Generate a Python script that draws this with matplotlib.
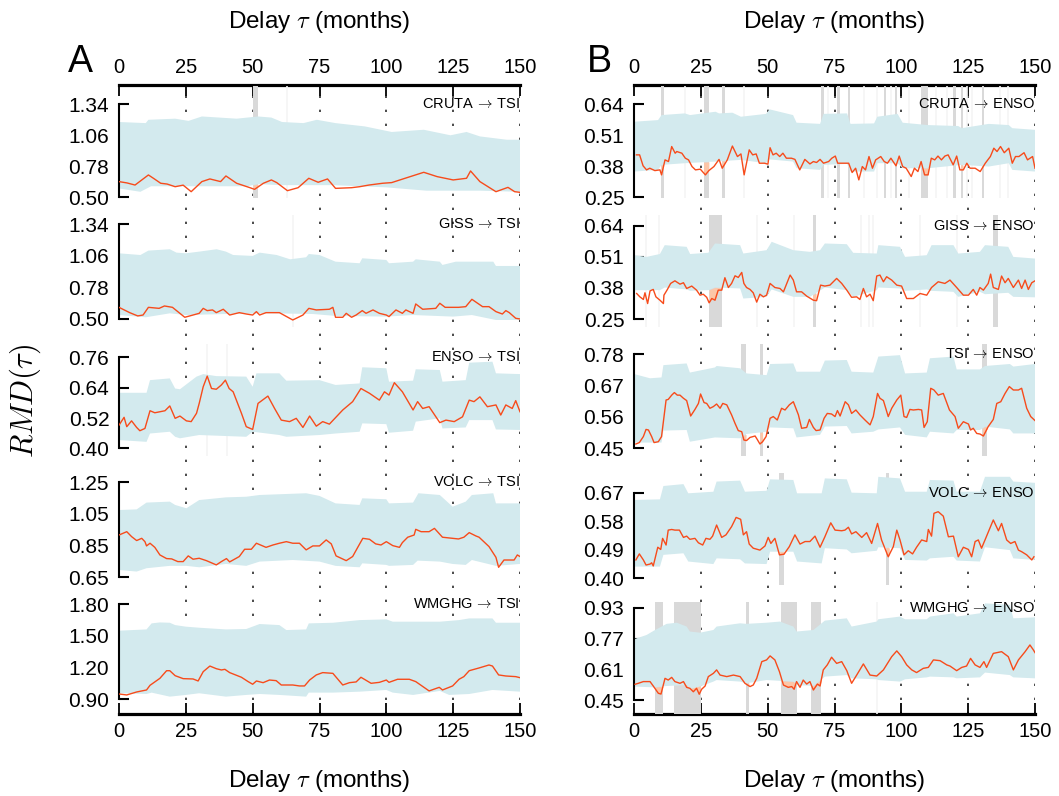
import numpy as np
import matplotlib
matplotlib.use('Agg')
import matplotlib.pyplot as plt

plt.rcParams['font.family'] = ['Liberation Sans', 'DejaVu Sans']
plt.rcParams['mathtext.fontset'] = 'cm'

# ---------------- data ----------------
DELAY_TICKS = [0, 25, 50, 75, 100, 125, 150]

# ===== Column A =====
# A1 CRUTA -> TSI
A1_hi_tau = [0,10,11,21,26,31,44,52,57,61,69,74,81,92,102,114,124,130,135,145,150]
A1_hi = [1.18,1.17,1.20,1.21,1.19,1.23,1.21,1.23,1.22,1.18,1.17,1.20,1.17,1.14,1.09,1.11,1.06,1.09,1.05,1.02,1.02]
A1_lo_tau = [0,8,12,48,52,60,80,100,115,135,150]
A1_lo = [0.58,0.55,0.60,0.60,0.62,0.61,0.61,0.59,0.56,0.56,0.55]
A1_tau = [0,3,6,11,13,15.6,18,21,24,27,31,34,38,40,44,49,50.7,54,57,59,63,67,71,74.5,78,81,87,90,93.5,98.6,
          102,107,114,119,125,130,131.5,135,141,145.5,148,150]
A1_rmd = [0.642,0.63,0.611,0.702,0.67,0.627,0.62,0.596,0.61,0.551,0.642,0.666,0.642,0.693,0.627,0.587,0.572,0.627,0.657,0.633,
          0.560,0.587,0.672,0.636,0.666,0.581,0.587,0.596,0.611,0.627,0.633,0.672,0.726,0.687,0.657,0.672,0.738,0.642,0.551,0.590,
          0.551,0.545]
A1_sig = [(50.2, 52.0)]
A1_faint = [63]

# A2 GISS -> TSI
A2_hi_tau = [0,8,11,19,21.5,25,30,36.5,40,42.7,50,52.6,59,64,70,71,75,81,90,91,100,101,110,111,120,121,126,140,141,150]
A2_hi = [1.081,1.066,1.105,1.117,1.087,1.081,1.096,1.117,1.096,1.066,1.058,1.087,1.066,1.028,1.046,1.075,1.066,1.007,0.993,1.037,
         1.022,0.993,1.007,1.028,1.007,0.978,1.007,1.007,0.969,0.969]
A2_lo_tau = [0,10,19,25,40,57,72.5,81,100,110,125,132,141,150]
A2_lo = [0.535,0.515,0.550,0.535,0.544,0.550,0.544,0.527,0.521,0.535,0.521,0.535,0.491,0.491]
A2_tau = [0,4,7,9,11,15,17,20,24.6,27.7,30,31.5,33,35,36.4,39,41.4,45,47.6,50,51.4,52.6,55,60,65,68.8,71,73.8,78.7,80,
          81,83.7,85,87,88.7,91,92.4,95,97.4,100,101,103.6,106,107.3,110,111,113.6,118.5,120,122,127,129.7,132,136,138.4,141,
          143.4,144.7,146,148.4,150]
A2_rmd = [0.603,0.556,0.527,0.535,0.603,0.594,0.615,0.603,0.515,0.535,0.550,0.594,0.574,0.580,0.556,0.586,0.535,0.556,0.544,0.535,
          0.565,0.535,0.556,0.556,0.491,0.535,0.594,0.580,0.586,0.603,0.515,0.515,0.550,0.515,0.535,0.574,0.550,0.580,0.550,0.535,
          0.521,0.580,0.550,0.580,0.550,0.633,0.586,0.594,0.639,0.603,0.603,0.609,0.674,0.609,0.609,0.565,0.544,0.574,0.556,0.506,
          0.500]
A2_sig = []
A2_faint = [65]

# A3 ENSO -> TSI
A3_hi_tau = [0,10.3,11.6,19,21,22.8,29,31.5,36.4,47.6,50,51.4,60,62.6,75,81,90,91,100,101,110,111,120,121,129.7,131,139.7,141,150]
A3_hi = [0.620,0.620,0.670,0.677,0.637,0.634,0.684,0.694,0.686,0.684,0.644,0.697,0.697,0.668,0.670,0.651,0.657,0.721,0.717,0.664,
         0.668,0.713,0.710,0.664,0.670,0.739,0.743,0.697,0.694]
A3_lo_tau = [0,10.3,11.6,19,21,22.8,30,47.6,50,60,62.6,75,81,90,91,100,101,110,111,120,121,129.7,131,139.7,141,150]
A3_lo = [0.433,0.426,0.459,0.466,0.446,0.440,0.453,0.446,0.466,0.453,0.446,0.453,0.459,0.466,0.499,0.496,0.462,0.470,0.506,0.519,
         0.479,0.483,0.512,0.512,0.475,0.473]
A3_tau = [0,1.9,2.9,4.7,6.6,7.8,9.7,11.6,13.4,15.3,17.2,19,21,22.8,25.2,27,29,30,31.5,33,34.6,36.4,38.3,39.8,41.2,42.7,45.8,47.6,50,52,
          55.7,58.2,60.7,63.8,66.3,68.8,71.3,73.8,76.2,78.7,83.7,87.4,90.5,93.7,97.4,99.3,101,103,106,110,111.7,113.6,116,120,122.3,
          125.4,128.5,131,132.8,135,137.8,141,142.8,144.7,147.1,148.4,150]
A3_rmd = [0.492,0.523,0.486,0.509,0.483,0.470,0.479,0.549,0.541,0.545,0.549,0.568,0.519,0.528,0.509,0.506,0.539,0.578,0.644,0.686,
          0.637,0.634,0.651,0.670,0.637,0.624,0.539,0.486,0.475,0.578,0.607,0.558,0.512,0.506,0.519,0.483,0.528,0.488,0.506,0.496,
          0.552,0.585,0.637,0.618,0.591,0.624,0.611,0.660,0.624,0.552,0.585,0.558,0.565,0.502,0.512,0.506,0.525,0.591,0.585,0.604,
          0.565,0.572,0.532,0.572,0.558,0.589,0.545]
A3_sig = []
A3_faint = [32.9, 40.3]

# A4 VOLC -> TSI
A4_hi_tau = [0,6.6,10.3,19,21,25.2,30,40,47.6,52.6,70,75,81,90,91,100,101,110,112,120,124.8,129.7,132,140,141,150]
A4_hi = [1.075,1.079,1.122,1.128,1.107,1.086,1.138,1.155,1.159,1.170,1.181,1.164,1.117,1.107,1.149,1.143,1.117,1.122,1.181,1.170,
         1.096,1.128,1.170,1.181,1.117,1.117]
A4_lo_tau = [0,6.6,10.3,19,25.2,30,40,47.6,52.6,65,75,81,90,91,100,101,110,111.7,120,124.8,129.7,132,141,150]
A4_lo = [0.696,0.686,0.707,0.722,0.722,0.713,0.734,0.722,0.749,0.759,0.749,0.722,0.713,0.738,0.728,0.722,0.728,0.755,0.749,0.734,
         0.728,0.759,0.722,0.734]
A4_tau = [0,2.9,4.7,6.6,8.5,9.7,10.3,11.6,13.4,15.3,17.8,19.7,22,24,25.9,27.7,30,32.7,36.4,38.3,40.2,41.4,45,47,49.5,51.4,55,57.6,60,62.6,
          65,67.5,70,72.5,75,77.5,79.4,81.2,85,87.4,89.3,91.2,93.7,96,98,100,102.4,104.9,106,108,110.4,111,113,116,118,121,127,129,131,
          133.5,134.7,138.4,141,142,144,147.8,149,150]
A4_rmd = [0.917,0.938,0.907,0.882,0.896,0.875,0.848,0.865,0.839,0.791,0.768,0.766,0.749,0.749,0.785,0.764,0.770,0.755,0.728,0.749,
          0.768,0.747,0.781,0.827,0.827,0.865,0.839,0.854,0.865,0.875,0.865,0.865,0.823,0.848,0.848,0.886,0.861,0.785,0.755,0.781,
          0.839,0.896,0.890,0.861,0.854,0.875,0.850,0.839,0.869,0.903,0.917,0.953,0.938,0.938,0.959,0.903,0.892,0.903,0.932,0.911,
          0.903,0.844,0.776,0.713,0.759,0.759,0.791,0.781]
A4_sig = []
A4_faint = []

# A5 WMGHG -> TSI
A5_hi_tau = [0,10.3,12.2,15.3,19,21,25,30,40,47.6,52.6,60,62.6,70,71,80,90,100,102.4,110,120,127.2,131,139.7,141,150]
A5_hi = [1.548,1.560,1.617,1.626,1.623,1.601,1.586,1.576,1.560,1.564,1.611,1.601,1.554,1.560,1.617,1.623,1.648,1.655,1.633,1.633,
         1.633,1.648,1.664,1.664,1.623,1.623]
A5_lo_tau = [0,10.3,12.2,19,25,30,40,47.6,52.6,60,70,71,80,90,100,102.4,110,120,123.5,131,139.7,150]
A5_lo = [0.957,0.950,0.963,0.925,0.941,0.957,0.925,0.941,0.950,0.941,0.925,0.963,0.963,0.972,0.988,0.963,0.941,0.979,0.941,0.950,
         0.988,0.972]
A5_tau = [0,2.9,6.6,10.3,11.6,15.3,17.8,19,21,24,27.7,29.6,31.5,34,36.4,38.3,39.6,41.4,45.8,48.3,50,51.4,53.9,56.3,58.8,60.7,65,67.5,
          69.4,71.3,73.8,76.2,80,83.7,86.2,88.7,90.5,94.3,97.4,100,101,104.2,108.6,111,116,119.8,121,124.8,127.2,129,131,134.7,138.4,
          139.7,142,144.7,148.4,150]
A5_rmd = [0.950,0.941,0.969,0.988,1.032,1.098,1.170,1.170,1.123,1.095,1.092,1.073,1.161,1.214,1.189,1.177,1.183,1.152,1.108,1.067,
          1.042,1.073,1.057,1.082,1.076,1.035,1.035,1.026,1.026,1.082,1.130,1.152,1.145,1.035,1.057,1.064,1.108,1.051,1.060,1.082,
          1.060,1.089,1.089,1.067,0.979,1.013,0.988,1.026,1.089,1.114,1.170,1.196,1.224,1.214,1.130,1.120,1.114,1.104]
A5_sig = []
A5_faint = []

# ===== Column B =====
# B1 CRUTA -> ENSO
B1_hi_tau = [0,9,10.3,19,21,30.5,31.8,36.8,40,49.4,50.7,59.5,60.8,69.6,70.9,79.7,81,89.8,91,98.6,100.5,110,121.3,122.6,132.7,140.2,141.5,150]
B1_hi = [0.567,0.574,0.595,0.602,0.595,0.609,0.602,0.605,0.588,0.600,0.619,0.595,0.563,0.558,0.600,0.602,0.558,0.560,0.588,0.600,
         0.563,0.553,0.549,0.540,0.558,0.553,0.540,0.533]
B1_lo_tau = [0,9,10.3,19,30.5,40,49.4,50.7,59.5,60.8,69.6,70.9,79.7,81,89.8,91,98.6,100.5,110,122.6,132.7,140.2,141.5,150]
B1_lo = [0.358,0.365,0.386,0.393,0.400,0.407,0.393,0.409,0.400,0.372,0.365,0.386,0.390,0.358,0.358,0.393,0.393,0.372,0.372,0.386,
         0.379,0.393,0.365,0.358]
B1_tau = [0.9,2.1,3.4,4.7,5.9,7.8,9.7,10.3,11.6,12.9,14.1,15.4,16.0,17.9,19.2,20.4,21.7,23.0,24.8,26.7,28.0,29.9,31.8,33.0,34.9,36.8,
          38.7,40.0,41.2,43.1,44.4,45.7,46.9,48.8,50.1,50.9,52.0,53.2,54.5,55.7,57.0,58.9,60.2,62.0,63.9,65.8,67.1,68.3,69.6,70.9,
          72.8,74.0,75.3,76.2,78.4,80.3,81.6,82.9,84.1,85.4,86.6,87.9,89.2,90.4,92.3,93.6,94.8,96.1,98.0,99.2,100.5,101.8,103.7,104.9,
          106.2,107.4,108.7,110.0,111.2,112.5,113.7,115.0,116.3,117.5,119.4,120.7,121.9,123.2,124.5,125.7,127.6,129.5,131.4,133.3,
          134.6,135.8,137.1,138.5,140.2,141.5,142.7,144.0,145.9,147.2,149.1,150]
B1_rmd = [0.428,0.428,0.382,0.365,0.372,0.362,0.365,0.344,0.407,0.400,0.463,0.435,0.442,0.435,0.414,0.407,0.379,0.365,0.368,0.344,
          0.362,0.379,0.409,0.372,0.407,0.465,0.421,0.432,0.344,0.449,0.428,0.432,0.393,0.393,0.389,0.458,0.428,0.435,0.421,0.435,
          0.414,0.414,0.409,0.365,0.409,0.390,0.400,0.396,0.409,0.393,0.400,0.414,0.423,0.393,0.393,0.393,0.354,0.372,0.323,0.379,
          0.365,0.421,0.372,0.407,0.421,0.400,0.393,0.414,0.382,0.423,0.379,0.372,0.337,0.372,0.358,0.400,0.344,0.344,0.414,0.407,
          0.423,0.407,0.423,0.428,0.386,0.423,0.365,0.365,0.393,0.372,0.372,0.358,0.393,0.421,0.456,0.442,0.463,0.437,0.456,0.393,
          0.421,0.421,0.437,0.407,0.421,0.372]
B1_sig = [(10.1,11.1),(26.0,28.0),(32.9,33.9),(70.1,71.0),(75.9,76.9),(79.9,80.8),(93.4,94.4),(97.6,98.4),(107.4,110.1),
          (119.3,120.3),(122.2,123.1),(130.1,131.1)]
B1_faint = [19,41,72.5,86,91,96,103,113,117,124.5,126.5,137,140]

# B2 GISS -> ENSO
B2_hi_tau = [0,4.7,9.7,11.5,19.7,21,27.8,30.3,39.7,40.9,49.6,51.5,59.6,65.8,69.6,71.4,79.6,82,90.8,91.4,99.5,101.4,109.5,111.3,119.5,
             121.3,129.4,131.3,140,141.9,150]
B2_hi = [0.517,0.510,0.522,0.559,0.552,0.522,0.527,0.566,0.559,0.524,0.538,0.573,0.538,0.531,0.538,0.566,0.563,0.527,0.524,0.559,
         0.552,0.510,0.517,0.559,0.559,0.524,0.531,0.559,0.552,0.510,0.503]
B2_lo_tau = [0,9.7,11.5,19.7,21,27.8,30.3,39.7,40.9,49.6,51.5,59.6,65.8,71.4,79.6,82,90.8,91.4,99.5,101.4,109.5,111.3,119.5,121.3,
             129.4,131.3,140,141.9,150]
B2_lo = [0.371,0.371,0.382,0.374,0.368,0.371,0.382,0.378,0.336,0.343,0.374,0.343,0.343,0.382,0.371,0.343,0.371,0.382,0.378,0.368,
         0.374,0.368,0.364,0.343,0.364,0.354,0.360,0.343,0.341]
B2_tau = [1.0,2.2,3.5,4.1,5.1,6.0,7.2,8.2,9.7,11.0,11.2,12.5,13.7,15.3,17.2,18.5,19.7,21.6,23.4,24.7,25.9,27.2,28.1,29.1,30.3,31.5,
          32.8,34.0,35.3,36.5,37.8,39.0,40.3,41.1,42.1,43.4,44.6,45.9,47.1,48.4,49.6,50.9,52.7,54.6,55.9,58.4,59.6,60.8,62.7,64.6,
          67.1,68.3,69.8,71.4,73.3,75.8,77.7,79.6,81.4,83.3,84.5,85.8,87.0,88.3,89.5,90.8,92.0,93.3,94.5,96.4,98.3,100.1,102.0,104.5,
          107.0,109.5,111.3,113.8,116.3,118.2,120.7,123.2,125.1,126.9,128.2,129.4,130.7,132.5,133.4,134.4,136.3,137.5,138.8,140.0,
          141.9,143.8,145.0,146.3,147.5,148.8,150]
B2_rmd = [0.357,0.343,0.332,0.360,0.315,0.368,0.374,0.343,0.329,0.315,0.350,0.374,0.399,0.410,0.396,0.402,0.378,0.388,0.371,0.350,
          0.354,0.341,0.318,0.336,0.329,0.371,0.371,0.423,0.382,0.399,0.431,0.424,0.445,0.399,0.382,0.374,0.360,0.321,0.354,0.343,
          0.350,0.399,0.382,0.378,0.364,0.434,0.413,0.364,0.364,0.346,0.329,0.327,0.392,0.388,0.392,0.420,0.399,0.371,0.341,0.343,
          0.332,0.378,0.343,0.354,0.327,0.430,0.434,0.406,0.427,0.413,0.392,0.388,0.336,0.336,0.357,0.350,0.382,0.406,0.399,0.413,
          0.382,0.350,0.350,0.374,0.350,0.382,0.371,0.399,0.438,0.382,0.374,0.430,0.402,0.420,0.382,0.413,0.378,0.413,0.374,0.402,
          0.410]
B2_sig = [(28.1,33.0),(66.8,68.1),(134.2,136.3)]
B2_faint = [4.5,9.5,46,60,85,88,89.5,107,121]

# B3 TSI -> ENSO
B3_hi_tau = [0,6,10.3,11,19.7,20.9,30.3,30.9,39.7,42.1,49.6,50.9,59.6,60.8,69.6,71.4,79.6,81.4,89.5,91.4,99.5,101.4,109.5,110.7,119.5,
             120.7,129.4,131.3,140.6,141.9,150]
B3_hi = [0.710,0.695,0.698,0.741,0.747,0.715,0.733,0.738,0.730,0.712,0.706,0.745,0.747,0.718,0.718,0.757,0.759,0.718,0.715,0.771,
         0.776,0.712,0.715,0.765,0.771,0.726,0.726,0.738,0.745,0.736,0.745]
B3_lo_tau = [0,10.3,11,19.7,20.9,30.3,39.7,42.1,49.6,50.9,59.6,60.8,69.6,71.4,79.6,81.4,89.5,91.4,99.5,101.4,109.5,110.7,119.5,120.7,
             129.4,131.3,140.6,141.9,150]
B3_lo = [0.470,0.470,0.512,0.514,0.473,0.488,0.485,0.500,0.508,0.523,0.520,0.488,0.497,0.526,0.528,0.502,0.508,0.516,0.523,0.497,
         0.488,0.508,0.502,0.514,0.514,0.526,0.516,0.502,0.502]
B3_tau = [0.7,2.0,3.5,4.5,5.4,6.6,7.5,9.1,10.3,12.0,12.8,14.1,15.1,16.2,17.2,18.5,19.7,21.2,22.8,24.1,24.9,26.2,27.2,28.4,29.7,30.9,
          32.2,33.2,34.7,36.5,37.8,39.0,40.3,41.1,42.1,43.4,45.3,46.1,47.1,48.1,49.4,50.9,52.1,53.6,55.2,56.5,58.1,59.6,61.5,62.7,
          64.6,65.6,67.1,68.1,69.6,71.1,72.3,73.9,75.2,76.1,77.1,79.0,80.2,81.4,83.0,84.5,86.4,88.3,89.5,91.1,92.0,93.3,95.1,96.4,
          98.3,99.8,101.0,102.0,103.2,104.5,106.4,107.6,108.5,109.7,111.0,112.2,113.8,115.7,118.0,120.1,121.3,123.2,125.1,125.9,
          126.9,128.2,129.4,130.7,132.5,134.4,135.7,137.2,138.8,140.4,141.9,143.8,145.0,146.9,148.4,150]
B3_rmd = [0.465,0.470,0.491,0.516,0.514,0.491,0.470,0.473,0.491,0.619,0.621,0.636,0.645,0.636,0.636,0.625,0.617,0.563,0.586,0.607,
          0.640,0.610,0.607,0.590,0.596,0.605,0.590,0.607,0.602,0.567,0.537,0.512,0.508,0.479,0.477,0.488,0.493,0.481,0.465,0.473,
          0.491,0.555,0.561,0.549,0.590,0.584,0.602,0.613,0.567,0.520,0.523,0.551,0.523,0.512,0.514,0.555,0.572,0.570,0.561,0.582,
          0.563,0.613,0.602,0.572,0.584,0.567,0.549,0.532,0.561,0.642,0.625,0.617,0.561,0.590,0.619,0.636,0.561,0.558,0.586,0.584,
          0.586,0.584,0.523,0.543,0.660,0.654,0.636,0.642,0.584,0.561,0.520,0.543,0.535,0.514,0.520,0.502,0.500,0.493,0.526,0.551,
          0.607,0.613,0.642,0.666,0.654,0.654,0.660,0.590,0.561,0.547]
B3_sig = [(40.0,41.9),(47.1,48.1),(130.3,132.2)]
B3_faint = []

# B4 VOLC -> ENSO
B4_band_tau = [0,9.7,11,18.5,20.3,29.7,30.9,39.7,41.5,49.6,50.9,59.6,61,70.2,71.4,79.6,81.4,90.8,91.4,99.5,101.4,109.5,110.7,119.5,
               120.7,129.4,131.3,140.6,141.9,150]
B4_hi = [0.647,0.649,0.691,0.697,0.668,0.673,0.705,0.708,0.673,0.676,0.712,0.710,0.668,0.668,0.715,0.712,0.670,0.668,0.720,0.715,
         0.673,0.673,0.710,0.708,0.673,0.673,0.720,0.720,0.705,0.701]
B4_lo = [0.437,0.437,0.474,0.479,0.453,0.445,0.463,0.460,0.447,0.445,0.484,0.484,0.453,0.447,0.495,0.491,0.479,0.487,0.498,0.495,
         0.458,0.456,0.463,0.468,0.456,0.453,0.498,0.489,0.463,0.458]
B4_tau = [0.7,2.0,3.5,4.5,6.0,6.6,7.2,8.9,10.0,10.7,12.0,12.8,14.1,15.3,17.0,18.5,19.7,20.9,22.8,24.1,25.7,26.9,28.4,29.4,30.9,32.8,
          34.4,36.5,38.2,39.9,40.9,42.1,43.1,44.6,47.1,49.0,50.2,51.2,52.7,54.4,56.1,58.1,60.2,62.1,64.0,65.8,67.7,69.6,71.4,73.6,
          75.2,77.7,78.9,80.2,81.4,83.0,85.2,87.0,88.9,91.1,92.6,95.1,97.0,98.3,99.5,101.0,102.6,104.2,105.7,107.6,109.5,110.1,111.3,
          112.2,113.8,115.7,117.6,119.5,121.3,123.2,125.1,126.3,127.6,128.8,130.0,131.3,134.4,136.3,137.5,139.4,140.9,142.5,143.8,
          145.0,146.9,148.8,149.6]
B4_rmd = [0.458,0.477,0.458,0.442,0.445,0.449,0.439,0.498,0.491,0.526,0.505,0.552,0.554,0.552,0.552,0.529,0.533,0.523,0.526,0.512,
          0.505,0.526,0.523,0.533,0.568,0.529,0.537,0.563,0.592,0.586,0.537,0.547,0.508,0.495,0.489,0.502,0.529,0.510,0.526,0.474,
          0.476,0.500,0.537,0.508,0.516,0.516,0.533,0.498,0.531,0.575,0.552,0.550,0.552,0.561,0.540,0.547,0.529,0.544,0.510,0.573,
          0.521,0.468,0.500,0.552,0.521,0.474,0.487,0.477,0.498,0.521,0.516,0.554,0.533,0.605,0.610,0.596,0.531,0.533,0.468,0.498,
          0.491,0.468,0.516,0.521,0.495,0.521,0.584,0.550,0.573,0.521,0.510,0.516,0.489,0.484,0.474,0.458,0.468]
B4_sig = [(54.2,56.1),(94.3,95.5)]
B4_faint = []

# B5 WMGHG -> ENSO
B5_hi_tau = [0,4.7,7.5,12.2,16,19.7,20.9,24.7,29.7,30.9,39.7,42,49.6,54.6,59.6,60.8,67.1,71.4,79.6,81.4,90.8,91.4,99.5,101.4,109.5,
             110.7,119.5,120.7,129.4,131.3,140.6,141.9,150]
B5_hi = [0.767,0.789,0.812,0.847,0.853,0.833,0.807,0.801,0.815,0.833,0.850,0.847,0.853,0.859,0.833,0.807,0.815,0.864,0.876,0.833,
         0.859,0.871,0.885,0.871,0.871,0.885,0.902,0.885,0.902,0.954,0.946,0.876,0.881]
B5_lo_tau = [0,7.5,12.2,19.7,20.9,24.7,29.7,30.9,39.7,42,49.6,59.6,60.8,67.1,71.4,79.6,81.4,90.8,91.4,99.5,101.4,109.5,110.7,119.5,
             120.7,129.4,131.3,140.6,141.9,150]
B5_lo = [0.520,0.516,0.523,0.528,0.506,0.520,0.546,0.554,0.546,0.537,0.554,0.546,0.528,0.523,0.572,0.580,0.563,0.558,0.554,0.546,
         0.558,0.568,0.572,0.568,0.563,0.568,0.593,0.580,0.568,0.563]
B5_tau = [0.4,1.6,3.5,6.0,7.2,9.1,10.1,11.6,12.8,14.1,15.3,17.2,18.5,19.7,20.9,22.2,23.4,24.4,25.3,26.6,27.8,29.7,30.9,32.2,34.7,37.2,
          39.7,41.5,43.4,44.6,45.9,47.8,49.6,50.9,52.7,54.4,55.9,57.7,59.0,59.9,60.8,62.1,63.3,64.6,65.8,67.1,68.6,69.6,70.8,72.3,
          73.9,75.8,77.7,79.6,81.4,83.3,85.8,88.3,90.8,93.3,96.4,98.3,100.1,102.0,103.9,105.7,108.2,110.1,112.0,114.5,117.0,118.2,
          120.7,122.6,124.4,125.9,127.6,129.4,130.9,131.9,134.4,137.5,140.0,141.9,143.8,146.3,148.1,149.4,150]
B5_rmd = [0.532,0.537,0.546,0.546,0.523,0.485,0.481,0.563,0.554,0.568,0.546,0.537,0.546,0.516,0.511,0.493,0.511,0.480,0.506,0.523,
          0.572,0.589,0.607,0.580,0.572,0.580,0.572,0.537,0.520,0.528,0.563,0.650,0.659,0.680,0.659,0.598,0.528,0.516,0.520,0.506,
          0.546,0.516,0.554,0.533,0.546,0.502,0.533,0.523,0.607,0.633,0.673,0.641,0.650,0.603,0.537,0.580,0.638,0.580,0.575,0.607,
          0.676,0.706,0.676,0.633,0.607,0.593,0.615,0.620,0.659,0.655,0.633,0.627,0.603,0.620,0.627,0.667,0.633,0.620,0.650,0.620,
          0.693,0.702,0.676,0.607,0.659,0.702,0.737,0.711,0.697]
B5_sig = [(8.0,10.8),(15.0,24.9),(41.9,43.0),(55.1,60.9),(66.3,70.1)]
B5_faint = [91]

ARROW = '$\\,\\rightarrow\\,$'
PANEL_LABELS = [f'CRUTA{ARROW}TSI', f'GISS{ARROW}TSI', f'ENSO{ARROW}TSI', f'VOLC{ARROW}TSI', f'WMGHG{ARROW}TSI',
                f'CRUTA{ARROW}ENSO', f'GISS{ARROW}ENSO', f'TSI{ARROW}ENSO', f'VOLC{ARROW}ENSO', f'WMGHG{ARROW}ENSO']
PANEL_YTICKS = [[0.50, 0.78, 1.06, 1.34], [0.50, 0.78, 1.06, 1.34], [0.40, 0.52, 0.64, 0.76],
                [0.65, 0.85, 1.05, 1.25], [0.90, 1.20, 1.50, 1.80],
                [0.25, 0.38, 0.51, 0.64], [0.25, 0.38, 0.51, 0.64], [0.45, 0.56, 0.67, 0.78],
                [0.40, 0.49, 0.58, 0.67], [0.45, 0.61, 0.77, 0.93]]
PANEL_YLIM = [(0.494, 1.505), (0.429, 1.420), (0.370, 0.813), (0.601, 1.309), (0.761, 1.819),
              (0.247, 0.717), (0.217, 0.685), (0.423, 0.815), (0.379, 0.732), (0.377, 0.961)]

panels = [
    (A1_hi_tau, A1_hi, A1_lo_tau, A1_lo, A1_tau, A1_rmd, A1_sig, A1_faint),
    (A2_hi_tau, A2_hi, A2_lo_tau, A2_lo, A2_tau, A2_rmd, A2_sig, A2_faint),
    (A3_hi_tau, A3_hi, A3_lo_tau, A3_lo, A3_tau, A3_rmd, A3_sig, A3_faint),
    (A4_hi_tau, A4_hi, A4_lo_tau, A4_lo, A4_tau, A4_rmd, A4_sig, A4_faint),
    (A5_hi_tau, A5_hi, A5_lo_tau, A5_lo, A5_tau, A5_rmd, A5_sig, A5_faint),
    (B1_hi_tau, B1_hi, B1_lo_tau, B1_lo, B1_tau, B1_rmd, B1_sig, B1_faint),
    (B2_hi_tau, B2_hi, B2_lo_tau, B2_lo, B2_tau, B2_rmd, B2_sig, B2_faint),
    (B3_hi_tau, B3_hi, B3_lo_tau, B3_lo, B3_tau, B3_rmd, B3_sig, B3_faint),
    (B4_band_tau, B4_hi, B4_band_tau, B4_lo, B4_tau, B4_rmd, B4_sig, B4_faint),
    (B5_hi_tau, B5_hi, B5_lo_tau, B5_lo, B5_tau, B5_rmd, B5_sig, B5_faint),
]

# ---------------- figure ----------------
W, H = 1059, 796
fig = plt.figure(figsize=(W / 100, H / 100), dpi=100)

COL_X = [119, 634]
COL_W = 401
TOP0, PITCH, PH = 86, 129, 112
AX_TOP, AX_BOT = 85, 714
BAND = '#d3eaee'
LINE = '#f74b1b'
SIG = '#d9d9d9'
FAINT = '#f5f5f5'
BELOW = '#fcc6a8'

for c in range(2):
    bg = fig.add_axes([COL_X[c] / W, 1 - AX_BOT / H, COL_W / W, (AX_BOT - AX_TOP) / H])
    bg.set_zorder(0)
    bg.set_xlim(0, 150)
    bg.set_ylim(0, 1)
    bg.set_facecolor('none')
    for s in ['left', 'right']:
        bg.spines[s].set_visible(False)
    for s in ['top', 'bottom']:
        bg.spines[s].set_linewidth(2.3)
    bg.set_yticks([])
    bg.set_xticks(DELAY_TICKS)
    bg.set_xticklabels([str(t) for t in DELAY_TICKS])
    bg.tick_params(axis='x', top=True, bottom=True, labeltop=True, labelbottom=True,
                   direction='in', length=8, width=1.3, labelsize=14.5, pad=6)
    for t in DELAY_TICKS[1:]:
        bg.axvline(t, color='#4a4a4a', lw=1.4, ls=(0, (1.2, 6.0)), zorder=0)

for i, (hi_tau, hi, lo_tau, lo, tau, rmd, sig, faint) in enumerate(panels):
    c, r = divmod(i, 5)
    top = TOP0 + PITCH * r
    ax = fig.add_axes([COL_X[c] / W, 1 - (top + PH) / H, COL_W / W, PH / H])
    ax.set_zorder(1)
    ax.set_facecolor('none')
    ax.set_xlim(0, 150)
    ax.set_ylim(*PANEL_YLIM[i])
    for s in ['top', 'right', 'bottom']:
        ax.spines[s].set_visible(False)
    yt = PANEL_YTICKS[i]
    ax.spines['left'].set_bounds(yt[0], yt[-1])
    ax.spines['left'].set_linewidth(1.5)
    ax.set_xticks([])
    ax.set_yticks(yt)
    ax.set_yticklabels([f'{v:.2f}' for v in yt])
    ax.tick_params(axis='y', direction='in', length=7, width=1.5, labelsize=15, pad=7)

    for (a, b) in sig:
        ax.axvspan(a, b, color=SIG, lw=0, zorder=1)
    for f in faint:
        ax.axvline(f, color=FAINT, lw=1.2, zorder=1)

    hi_tau_a = np.asarray(hi_tau); lo_tau_a = np.asarray(lo_tau)
    ax.fill(np.r_[hi_tau_a, lo_tau_a[::-1]], np.r_[np.asarray(hi), np.asarray(lo)[::-1]],
            color=BAND, lw=0, zorder=2)

    tau_a = np.asarray(tau); rmd_a = np.asarray(rmd)
    # shade where the curve drops below the surrogate band inside significant delays
    for (a, b) in sig:
        g = np.linspace(a, b, 60)
        gl = np.interp(g, tau_a, rmd_a)
        gb = np.interp(g, lo_tau_a, np.asarray(lo))
        ax.fill_between(g, gl, gb, where=gl < gb, interpolate=True, color=BELOW, lw=0, zorder=3)
    ax.plot(tau_a, rmd_a, color=LINE, lw=1.0, zorder=4)
    ax.text(150, yt[-1], PANEL_LABELS[i], ha='right', va='center', fontsize=10.5, zorder=5)

fig.text(80 / W, 1 - 62 / H, 'A', fontsize=27, ha='center', va='center')
fig.text(599 / W, 1 - 62 / H, 'B', fontsize=27, ha='center', va='center')
for cx in [319, 834]:
    fig.text(cx / W, 1 - 22 / H, 'Delay $\\tau$ (months)', fontsize=17.5, ha='center', va='center')
    fig.text(cx / W, 1 - 781 / H, 'Delay $\\tau$ (months)', fontsize=17.5, ha='center', va='center')
fig.text(25 / W, 1 - 401 / H, '$RMD(\\tau)$', rotation=90, fontsize=22, ha='center', va='center')

fig.savefig('out.png', dpi=100)
